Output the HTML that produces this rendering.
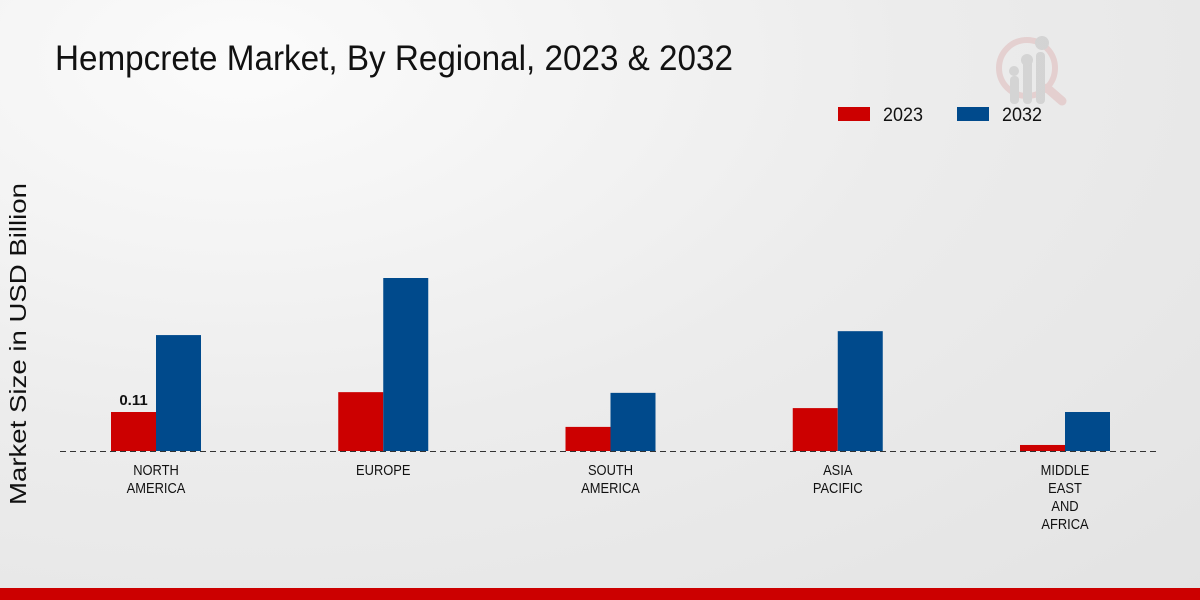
<!DOCTYPE html>
<html><head><meta charset="utf-8"><style>
body{margin:0;width:1200px;height:600px;overflow:hidden;font-family:"Liberation Sans",sans-serif;}
#bg{position:absolute;left:0;top:0;width:1200px;height:600px;background:radial-gradient(ellipse at 20% 10%,#fbfbfb 0%,#ececec 50%,#e3e3e3 100%);}
</style></head><body>
<div id="bg"></div>
<svg id="c" width="1200" height="600" style="position:absolute;left:0;top:0">
<text x="55" y="70" font-size="35" fill="#111" textLength="678" lengthAdjust="spacingAndGlyphs">Hempcrete Market, By Regional, 2023 &amp; 2032</text>
<g opacity="0.35">
<circle cx="1027" cy="68" r="28" fill="none" stroke="#d9a0a0" stroke-width="6"/>
<line x1="1047" y1="88" x2="1062" y2="101" stroke="#d9a0a0" stroke-width="9" stroke-linecap="round"/>
<rect x="1010" y="76" width="9" height="28" rx="4" fill="#aaa"/><rect x="1023" y="60" width="9" height="44" rx="4" fill="#aaa"/><rect x="1036" y="52" width="9" height="52" rx="4" fill="#aaa"/>
<circle cx="1014" cy="71" r="5" fill="#aaa"/><circle cx="1027" cy="60" r="6" fill="#aaa"/><circle cx="1042" cy="43" r="7" fill="#aaa"/>
</g>
<g>
<rect x="838" y="107" width="32" height="14" fill="#cc0000"/>
<text x="883" y="121" font-size="19" fill="#111" textLength="40" lengthAdjust="spacingAndGlyphs">2023</text>
<rect x="957" y="107" width="32" height="14" fill="#004a8c"/>
<text x="1002" y="121" font-size="19" fill="#111" textLength="40" lengthAdjust="spacingAndGlyphs">2032</text>
</g>
<text transform="translate(26,344) rotate(-90)" text-anchor="middle" font-size="23" fill="#111" textLength="322" lengthAdjust="spacingAndGlyphs">Market Size in USD Billion</text>
<g id="bars"></g>
<line x1="60" y1="451.5" x2="1160" y2="451.5" stroke="#333" stroke-dasharray="6,4"/>
<g id="labels"></g>
<rect x="0" y="588" width="1200" height="12" fill="#cc0000"/>
</svg>
<script>
const categories=[["NORTH","AMERICA"],["EUROPE"],["SOUTH","AMERICA"],["ASIA","PACIFIC"],["MIDDLE","EAST","AND","AFRICA"]];
const values2023=[0.11,0.166,0.068,0.121,0.017];
const values2032=[0.327,0.488,0.164,0.338,0.11];
const valueLabels=["0.11",null,null,null,null];
const ns="http://www.w3.org/2000/svg";
const base=451,scale=354.5,x0=156,step=227.25,bw=45;
const y=v=>base-v*scale;
const bars=document.getElementById('bars'),labs=document.getElementById('labels');
function mk(t,a,p){const e=document.createElementNS(ns,t);for(const k in a)e.setAttribute(k,a[k]);p.appendChild(e);return e;}
categories.forEach((c,i)=>{
 const cx=x0+i*step;
 const r=mk('rect',{x:cx-bw,y:y(values2023[i]),width:bw,height:values2023[i]*scale,fill:'#cc0000'},bars);
 
 
 const b=mk('rect',{x:cx,y:y(values2032[i]),width:bw,height:values2032[i]*scale,fill:'#004a8c'},bars);
 
 
 if(valueLabels[i]){const t=mk('text',{x:cx-bw/2,y:y(values2023[i])-7,'text-anchor':'middle','font-size':'15','font-weight':'bold',fill:'#111'},labs);t.textContent=valueLabels[i];
 
 }
 const g=mk('g',{transform:'translate('+cx+',0) scale(0.86,1)'},labs);
 const t=mk('text',{x:0,y:475,'text-anchor':'middle','font-size':'15',fill:'#111'},g);
 
 
 c.forEach((l,j)=>{const s=mk('tspan',{x:0,dy:j?18:0},t);s.textContent=l;});
});
</script>
</body></html>
